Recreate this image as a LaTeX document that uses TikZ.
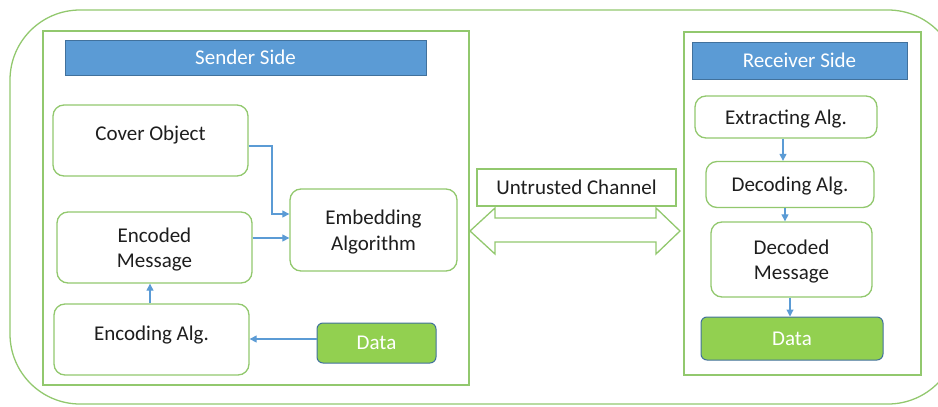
\documentclass[tikz,border=0pt]{standalone}
\usepackage{fontspec}
\setmainfont{Carlito}
\usetikzlibrary{arrows.meta,calc}
\definecolor{gline}{RGB}{146,200,110}
\definecolor{hblue}{RGB}{91,155,213}
\definecolor{hblueb}{RGB}{65,113,156}
\definecolor{dgreen}{RGB}{146,208,80}
\definecolor{txt}{RGB}{30,30,30}
\tikzset{
  x=1pt,y=-1pt,
  bigfont/.style={font=\fontsize{21}{25.5}\selectfont},
  every node/.style={bigfont, text=txt},
  frame/.style={draw=gline, line width=1.3pt},
  header/.style={draw=hblueb, fill=hblue, line width=0.8pt, text=white, inner sep=0pt},
  procbox/.style={draw=gline, line width=1.3pt, rounded corners=11pt, fill=white, inner sep=0pt, align=center, text depth=0pt},
  databox/.style={draw=hblueb, fill=dgreen, line width=1pt, rounded corners=6pt, text=white, inner sep=0pt},
  flow/.style={draw=hblue, line width=1.1pt, -{Triangle[length=7pt,width=7pt]}},
}
\begin{document}
\begin{tikzpicture}
\useasboundingbox (0,0) rectangle (938,407);
\clip (0,0) rectangle (938,407);
% outer frame
\draw[frame, rounded corners=70pt] (10,10) rectangle (958,404);
% sender and receiver frames
\draw[frame] (43,31) rectangle (469,385);
\draw[frame] (684,32) rectangle (921,375);
% headers
\node[header, minimum width=361pt, minimum height=35pt] (sh) at (245.5,57.5) {Sender Side};
\node[header, minimum width=215pt, minimum height=37pt] (rh) at (799.5,60.5) {Receiver Side};
% sender boxes
\node[procbox, minimum width=195pt, minimum height=71pt, label={[yshift=5pt, bigfont, text=txt]center:Cover Object}] (cover) at (150.5,140.5) {};
\node[procbox, minimum width=167pt, minimum height=82pt] (emb) at (373.5,230) {Embedding\\Algorithm};
\node[procbox, minimum width=195pt, minimum height=71pt] (encd) at (154.5,247.5) {Encoded\\Message};
\node[procbox, minimum width=195pt, minimum height=71pt, label={[yshift=4pt, bigfont, text=txt]center:Encoding Alg.}] (enc) at (151.5,339.5) {};
\node[databox, minimum width=119pt, minimum height=40pt] (ds) at (376.5,343) {Data};
% channel
\draw[draw=gline, line width=1.3pt, fill=white]
  (470,231) -- (495,208) -- (495,218) -- (656,218) -- (656,208) -- (680,231)
  -- (656,254) -- (656,242) -- (495,242) -- (495,254) -- cycle;
\node[draw=gline, line width=1.3pt, fill=white, minimum width=199pt, minimum height=37pt, inner sep=0pt] (ch) at (576.5,187.5) {Untrusted Channel};
% receiver boxes
\node[procbox, minimum width=182pt, minimum height=42pt] (ext) at (786,117) {Extracting Alg.};
\node[procbox, minimum width=168pt, minimum height=46pt] (dec) at (790,184.5) {Decoding Alg.};
\node[procbox, minimum width=161pt, minimum height=75pt] (decd) at (791.5,259.5) {Decoded\\Message};
\node[databox, minimum width=182pt, minimum height=43pt] (dr) at (792,338.5) {Data};
% sender connectors
\draw[flow] (cover.east |- 0,146) -- (272,146) |- (emb.west |- 0,214);
\draw[flow] (encd.east |- 0,238) -- (emb.west |- 0,238);
\draw[flow] (enc.north -| 150,0) -- (encd.south -| 150,0);
\draw[flow] (ds.west |- 0,339) -- (enc.east |- 0,339);
% receiver connectors
\draw[flow] (ext.south -| 783,0) -- (dec.north -| 783,0);
\draw[flow] (dec.south -| 785,0) -- (decd.north -| 785,0);
\draw[flow] (decd.south -| 790,0) -- (dr.north -| 790,0);
\end{tikzpicture}
\end{document}
